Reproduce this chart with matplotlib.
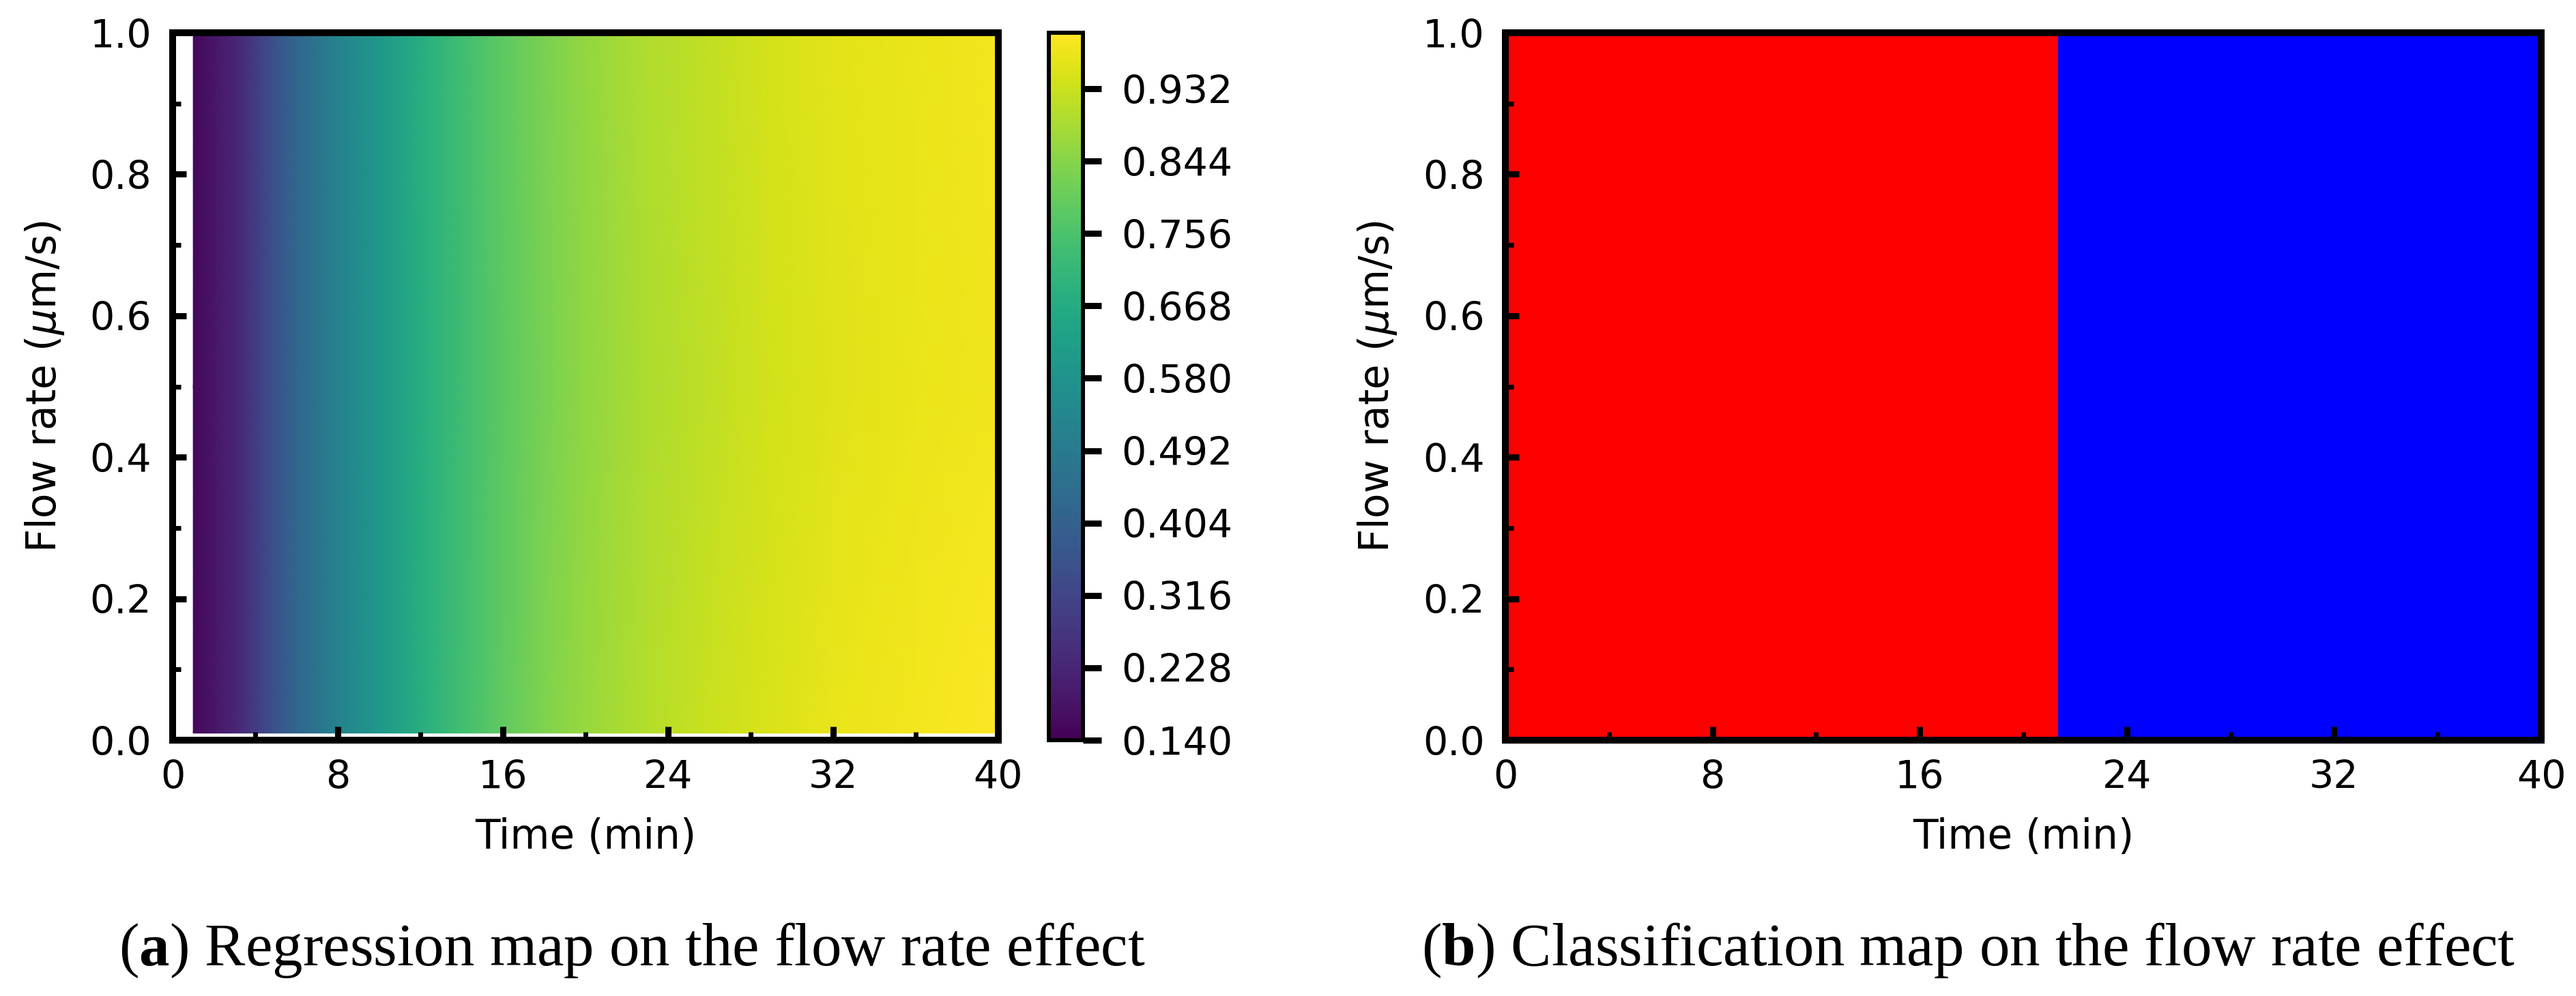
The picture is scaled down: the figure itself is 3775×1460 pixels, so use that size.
import numpy as np
import matplotlib
matplotlib.use("Agg")
import matplotlib.pyplot as plt
from matplotlib.colors import ListedColormap
from matplotlib.ticker import MultipleLocator

# regression map: predicted value, rows = flow rate
reg_times = [1, 2, 3, 4, 5, 6, 7, 8, 10, 12, 14, 16, 18, 20, 23, 26, 29, 32, 36, 40]
reg_flows = [0.01, 0.5, 1.0]
reg_bottom = [0.16, 0.19, 0.23, 0.29, 0.36, 0.42, 0.47, 0.52, 0.60, 0.675,
              0.738, 0.79, 0.833, 0.868, 0.903, 0.930, 0.952, 0.970, 0.985, 0.998]
reg_middle = [0.16, 0.19, 0.23, 0.29, 0.36, 0.42, 0.47, 0.52, 0.60, 0.672,
              0.733, 0.783, 0.825, 0.858, 0.893, 0.918, 0.940, 0.957, 0.970, 0.982]
reg_top = [0.16, 0.19, 0.23, 0.29, 0.36, 0.42, 0.47, 0.52, 0.60, 0.675,
           0.735, 0.785, 0.828, 0.862, 0.897, 0.922, 0.944, 0.960, 0.973, 0.985]
cbar_ticks = [0.140, 0.228, 0.316, 0.404, 0.492, 0.580, 0.668, 0.756, 0.844, 0.932]

# classification map: class boundary in time (red = class 0, blue = class 1)
cls_time_edges = [0.1, 21.35, 40.0]
cls_flow_edges = [0.0, 1.0]
cls_labels = [[0, 1]]
cls_colors = ["#ff0000", "#0000ff"]

caption_a = r"($\mathbf{a}$) Regression map on the flow rate effect"
caption_b = r"($\mathbf{b}$) Classification map on the flow rate effect"

plt.rcParams["font.family"] = "DejaVu Sans"
plt.rcParams["mathtext.fontset"] = "custom"
plt.rcParams["mathtext.it"] = "DejaVu Sans:italic"
plt.rcParams["mathtext.rm"] = "DejaVu Sans"
plt.rcParams["mathtext.bf"] = "Liberation Serif:bold"

TICK_FS = 41
LABEL_FS = 43
SPINE_LW = 7.2


def style_axes(ax):
    for s in ax.spines.values():
        s.set_linewidth(SPINE_LW)
    ax.set_xlim(0, 40)
    ax.set_ylim(0, 1)
    ax.xaxis.set_major_locator(MultipleLocator(8))
    ax.xaxis.set_minor_locator(MultipleLocator(4))
    ax.yaxis.set_major_locator(MultipleLocator(0.2))
    ax.yaxis.set_minor_locator(MultipleLocator(0.1))
    ax.tick_params(which="both", direction="in", top=False, right=False,
                   labelsize=TICK_FS)
    ax.tick_params(which="major", length=14.4, width=6.5)
    ax.tick_params(which="minor", length=8.6, width=5)
    ax.tick_params(axis="x", which="major", pad=20)
    ax.tick_params(axis="y", which="major", pad=22)
    ax.set_xlabel("Time (min)", fontsize=LABEL_FS, labelpad=22)
    ax.set_ylabel(r"Flow rate ($\mu$m/s)", fontsize=LABEL_FS, labelpad=25)


fig = plt.figure(figsize=(37.75, 14.6), dpi=100)

ax1 = fig.add_axes([0.0670, 0.2568, 0.3205, 0.7103])
cax = fig.add_axes([0.4072, 0.2568, 0.0132, 0.7103])
ax2 = fig.add_axes([0.5844, 0.2568, 0.4021, 0.7103])

T, F = np.meshgrid(reg_times, reg_flows)
Z = np.array([reg_bottom, reg_middle, reg_top])
pc = ax1.pcolormesh(T, F, Z, shading="gouraud", cmap="viridis",
                    vmin=0.14, vmax=1.0)
style_axes(ax1)

cb = fig.colorbar(pc, cax=cax)
cb.set_ticks(cbar_ticks)
cb.set_ticklabels([f"{v:.3f}" for v in cbar_ticks])
cb.outline.set_linewidth(4.3)
cax.tick_params(direction="out", length=19.4, width=6.5, pad=21,
                labelsize=TICK_FS)
cax.minorticks_off()

ax2.pcolormesh(cls_time_edges, cls_flow_edges, np.array(cls_labels),
               cmap=ListedColormap(cls_colors), vmin=0, vmax=1)
style_axes(ax2)

fig.text(0.2453, 0.0308, caption_a, ha="center", va="baseline",
         fontsize=64, family="Liberation Serif")
fig.text(0.7642, 0.0308, caption_b, ha="center", va="baseline",
         fontsize=64, family="Liberation Serif")

fig.savefig("out.png", dpi=100, facecolor="white")
